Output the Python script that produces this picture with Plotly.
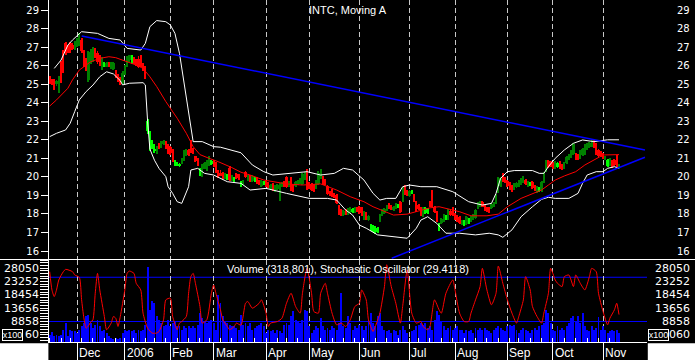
import pandas as pd
import plotly.graph_objects as go

# ---------------- data ----------------
HOLIDAYS = ["2005-11-24", "2005-12-26", "2006-01-02", "2006-01-16", "2006-02-20",
            "2006-04-14", "2006-05-29", "2006-07-04", "2006-09-04"]
DATES = [d for d in pd.bdate_range("2005-11-14", "2006-11-10")
         if d.strftime("%Y-%m-%d") not in HOLIDAYS]

OPEN = [25.37,25.25,25.20,25.00,25.10,26.20,26.80,27.20,27.00,27.25,
        27.10,26.90,27.10,27.10,27.40,26.80,26.30,25.20,26.20,26.30,
        26.85,26.70,26.50,25.80,25.95,25.95,26.15,25.90,25.80,25.70,
        25.50,25.35,25.10,25.60,26.00,26.30,26.20,26.35,26.30,26.35,
        26.30,26.10,25.95,22.50,21.50,21.60,21.40,21.30,21.75,21.60,
        21.80,21.85,21.75,21.60,21.45,20.65,20.65,20.60,20.75,20.90,
        21.20,21.45,21.60,21.50,21.10,20.95,20.10,20.15,20.45,20.35,
        20.65,20.70,20.80,20.75,20.30,20.20,20.20,19.95,19.90,20.50,
        19.85,19.80,20.15,20.10,19.50,19.60,20.25,19.85,20.05,19.80,
        19.75,19.95,19.80,19.50,19.60,19.80,19.70,19.35,19.60,19.25,
        19.35,19.35,19.50,19.75,20.00,19.50,19.95,19.55,19.50,19.60,
        19.65,19.60,19.90,20.35,19.65,19.60,19.55,19.40,19.60,19.95,
        20.00,19.85,19.50,19.20,19.30,19.10,19.00,18.45,18.20,17.95,
        18.20,18.00,18.10,18.10,18.10,18.35,18.40,18.30,17.75,18.05,
        17.65,17.15,17.10,16.95,17.00,17.60,17.95,18.05,18.20,18.55,
        18.45,18.20,18.30,18.35,18.65,18.70,19.45,19.25,18.95,19.10,
        19.00,18.65,18.50,18.30,17.90,18.05,18.05,18.65,18.70,18.40,
        18.10,17.20,17.50,17.60,17.75,17.70,18.15,18.30,18.00,17.90,
        17.85,17.45,17.40,17.45,17.50,17.60,17.75,17.80,18.30,18.45,
        18.65,18.45,18.35,18.35,18.30,18.40,18.60,19.20,19.50,20.10,
        19.95,19.80,19.65,19.50,19.35,19.45,19.50,19.60,19.70,19.85,
        19.50,19.55,19.75,19.50,19.20,19.25,19.25,19.70,20.30,20.85,
        20.80,20.75,20.50,20.55,20.80,20.65,20.45,20.75,20.95,21.05,
        21.25,21.25,21.20,21.00,21.20,21.25,21.50,21.60,21.65,21.85,
        21.80,21.45,21.35,21.25,20.95,20.60,20.65,20.85,20.90,20.95,20.45]
HIGH = [25.45,25.30,25.30,25.20,25.45,26.25,26.85,27.25,27.10,27.30,
        27.20,27.35,27.50,27.75,27.50,26.85,26.40,26.80,26.90,27.00,
        26.95,26.80,26.60,26.45,26.20,26.20,26.20,26.20,26.20,25.75,
        25.55,25.40,25.70,26.05,26.50,26.60,26.60,26.45,26.35,26.50,
        26.55,26.15,26.00,23.10,22.50,22.00,21.80,21.65,21.85,21.95,
        22.00,21.95,21.80,21.65,21.50,20.90,20.80,20.75,21.00,21.45,
        21.50,21.50,21.99,21.55,21.15,21.00,20.50,20.70,20.80,20.90,
        21.10,20.90,20.90,20.80,20.35,20.35,20.25,20.20,20.15,20.60,
        20.10,20.00,20.20,20.15,19.80,19.85,20.30,20.10,20.10,20.10,
        20.00,20.00,19.85,19.85,19.80,19.85,19.75,19.60,19.65,19.55,
        19.60,19.65,19.75,19.80,20.05,19.80,20.00,19.60,19.80,19.85,
        19.95,20.20,20.25,20.45,19.70,19.65,19.60,19.85,20.30,20.40,
        20.05,19.90,19.55,19.25,19.35,19.15,19.05,18.50,18.25,18.20,
        18.25,18.30,18.35,18.30,18.35,18.40,18.45,18.35,18.15,18.10,
        17.95,17.45,17.40,17.35,17.30,18.00,18.25,18.30,18.50,18.60,
        18.50,18.45,18.60,18.55,18.70,19.45,19.55,19.30,19.30,19.30,
        19.05,18.70,18.55,18.35,18.40,18.35,18.30,18.70,19.30,18.45,
        18.15,17.50,17.80,18.00,17.95,18.25,18.20,18.35,18.05,17.95,
        17.90,17.70,17.65,17.90,17.80,17.90,18.00,18.25,18.65,18.70,
        18.70,18.50,18.40,18.40,18.60,18.65,19.10,20.00,20.00,20.20,
        20.00,19.85,19.70,19.55,19.65,19.70,19.85,19.95,20.05,19.90,
        19.80,19.75,19.80,19.55,19.50,19.45,19.80,20.25,20.90,20.90,
        20.85,20.80,20.85,20.80,20.85,20.70,20.80,21.10,21.25,21.45,
        21.85,21.30,21.25,21.45,21.55,21.75,21.85,21.90,22.00,22.00,
        21.85,21.50,21.40,21.30,21.15,20.95,21.00,20.90,20.95,21.20,20.70]
LOW = [25.00,24.95,24.70,24.90,24.55,25.05,25.60,26.60,26.70,26.70,
       26.85,26.85,27.00,27.05,26.70,25.90,25.70,25.10,26.10,26.20,
       26.40,26.10,26.00,25.75,25.90,25.90,25.90,25.80,25.75,25.35,
       25.10,24.95,25.00,25.50,25.95,26.20,26.10,26.10,26.00,25.85,
       25.90,25.70,25.30,22.30,21.40,21.50,21.30,21.25,21.50,21.55,
       21.70,21.50,21.25,21.20,20.80,20.60,20.60,20.55,20.70,20.85,
       21.15,21.15,21.30,21.25,20.80,20.60,20.05,20.00,20.40,20.30,
       20.60,20.65,20.55,20.20,19.95,20.05,19.90,19.90,19.85,19.80,
       19.80,19.75,19.90,19.85,19.45,19.55,19.95,19.80,19.75,19.75,
       19.70,19.60,19.55,19.45,19.55,19.45,19.40,19.30,19.25,19.20,
       19.30,18.70,19.45,19.45,19.40,19.45,19.25,19.20,19.45,19.55,
       19.60,19.55,19.85,19.30,19.35,19.25,19.20,19.35,19.55,19.90,
       19.55,19.55,19.00,18.95,18.90,18.85,18.55,17.95,17.90,17.90,
       17.95,17.95,18.05,18.05,18.05,18.10,18.00,17.90,17.70,17.65,
       17.60,17.10,17.00,16.90,16.95,17.55,17.90,18.00,18.15,18.25,
       18.20,18.15,18.25,18.30,18.05,18.65,19.00,18.95,18.90,19.05,
       18.65,18.10,18.20,17.90,17.85,18.00,18.00,18.35,18.35,18.05,
       17.55,17.10,17.45,17.55,17.70,17.65,17.90,17.90,17.65,17.55,
       17.45,17.40,17.35,17.40,17.45,17.55,17.70,17.75,18.25,18.40,
       18.35,18.15,18.10,18.05,18.25,18.35,18.55,19.15,19.45,19.70,
       19.65,19.45,19.30,19.20,19.30,19.40,19.45,19.55,19.65,19.55,
       19.45,19.50,19.35,19.25,19.15,19.20,19.20,19.65,20.25,20.50,
       20.55,20.40,20.45,20.50,20.45,20.35,20.40,20.70,20.90,21.00,
       21.20,20.90,20.90,20.95,21.15,21.20,21.45,21.55,21.60,21.55,
       21.20,21.05,21.05,20.95,20.90,20.55,20.60,20.50,20.60,20.50,20.40]
CLOSE = [25.10,25.05,24.95,25.15,25.35,25.15,25.70,26.70,26.75,26.80,
         26.90,27.30,27.45,27.60,26.80,25.95,25.80,26.75,26.85,26.90,
         26.50,26.20,26.10,26.40,26.10,26.15,26.00,26.10,26.15,25.45,
         25.20,25.05,25.60,26.00,26.40,26.55,26.50,26.15,26.05,25.90,
         25.95,25.75,25.50,23.00,22.30,21.95,21.45,21.60,21.55,21.90,
         21.95,21.60,21.30,21.30,20.85,20.80,20.75,20.70,20.95,21.40,
         21.45,21.20,21.35,21.30,20.85,20.65,20.45,20.55,20.75,20.85,
         20.90,20.85,20.60,20.25,20.05,20.10,19.95,20.15,20.10,19.85,
         20.05,19.95,19.95,19.90,19.75,19.80,20.00,20.05,19.80,20.05,
         19.95,19.65,19.60,19.80,19.75,19.50,19.45,19.55,19.30,19.50,
         19.55,19.60,19.70,19.50,19.45,19.75,19.30,19.25,19.75,19.80,
         19.90,20.15,20.20,19.35,19.40,19.30,19.25,19.80,20.20,20.30,
         19.60,19.60,19.05,19.00,18.95,18.90,18.60,18.00,17.95,18.15,
         18.00,18.25,18.30,18.25,18.30,18.15,18.05,17.95,18.10,17.70,
         17.90,17.40,17.35,17.30,17.25,17.95,18.20,18.25,18.45,18.30,
         18.25,18.40,18.55,18.50,18.10,19.35,19.05,19.00,19.25,19.20,
         18.70,18.15,18.25,17.95,18.35,18.30,18.25,18.40,18.40,18.10,
         17.60,17.45,17.75,17.95,17.90,18.20,17.95,17.95,17.70,17.60,
         17.50,17.65,17.60,17.85,17.75,17.85,17.95,18.20,18.60,18.65,
         18.40,18.20,18.15,18.10,18.55,18.60,19.05,19.90,19.95,19.75,
         19.70,19.50,19.35,19.25,19.60,19.65,19.80,19.90,19.95,19.60,
         19.75,19.70,19.40,19.30,19.45,19.40,19.75,20.20,20.85,20.55,
         20.60,20.45,20.80,20.75,20.50,20.40,20.75,21.05,21.20,21.40,
         21.75,20.95,20.95,21.40,21.50,21.70,21.80,21.85,21.90,21.60,
         21.25,21.10,21.10,21.00,21.10,20.90,20.95,20.55,20.65,20.55,20.65]
VOLUME = [4060,4900,3700,4060,3460,4060,5860,8260,3460,5860,
          5260,5260,4660,5860,7060,8260,10660,11260,8260,6460,
          7660,9460,7060,5260,5860,4660,3460,2860,2500,2860,
          2500,2860,4660,5860,5260,5860,5260,5860,4660,5860,
          5260,5860,7660,28500,13060,16060,15460,10660,9460,8260,
          7060,7660,9460,7060,8260,8860,7060,7060,5860,7060,
          6460,7060,6460,7060,6460,7660,11860,10060,8860,8260,
          8860,9460,8260,5860,18460,15460,10660,8860,8260,7660,
          7060,7060,6460,5860,11260,7660,8260,7060,8260,5860,
          6460,7060,7660,8260,7060,4660,5860,5260,5860,4660,
          5860,5260,4660,7660,8260,7660,10660,12460,9460,8860,
          8260,9460,13060,12460,7060,4660,5860,7060,6460,10060,
          7060,5860,6460,5860,7060,6460,5860,8260,19060,7060,
          6460,10660,8260,5860,7060,6460,7660,7060,5860,7060,
          9460,11860,8260,7060,10660,11860,7060,5860,5260,5860,
          4660,5860,5260,4060,5860,7060,5860,4660,2860,5260,
          5860,7060,7660,8260,7660,8260,6460,7060,5860,9460,
          12460,11260,8860,7060,5860,6460,7060,5860,6460,7060,
          5860,5860,4660,5860,5260,5860,4660,6460,5860,6460,
          5860,6460,5860,5260,4660,5860,6460,7060,6460,5860,
          5260,7060,7660,7060,7660,5860,4660,5860,6460,5860,
          5260,4660,5860,6460,5860,7060,7660,8260,13060,11860,
          8260,5860,5260,7060,5860,6460,5860,7060,8260,10060,
          10660,8860,10660,8260,11860,7060,5860,5260,7060,5860,
          6460,10300,5860,7060,5860,4660,5260,5860,5260,5860,4660]

# moving average and bands, read at sample days (trading-day index)
MA_IDX = [0,3,8,10,13,18,22,26,29,34,38,41,44,47,51,56,60,63,66,70,74,80,84,88,94,
          104,111,119,126,132,138,142,147,151,157,163,167,171,177,180,185,192,197,201,207,
          212,216,219,222,226,231,235,240,243,250]
MA_VAL = [23.82,24.15,24.78,25.23,25.76,26.21,26.39,26.48,26.43,26.21,26.03,25.85,25.40,24.87,24.06,
          23.16,22.35,21.63,21.20,21.00,20.82,20.50,20.25,20.10,19.83,19.62,19.56,19.62,19.29,18.93,
          18.66,18.39,18.12,17.94,17.99,18.17,18.33,18.39,18.21,18.12,17.90,17.90,17.99,18.39,18.84,
          19.11,19.29,19.56,19.83,20.05,20.28,20.64,21.00,21.18,21.20]
UP_IDX = [2,5,8,10,14,21,26,31,34,40,42,44,47,51,53,55,57,59,61,62,63,67,72,75,80,84,89,94,98,107,
          113,119,125,129,133,138,142,145,148,152,155,158,163,170,177,184,190,194,196,198,201,204,
          212,215,217,219,222,226,230,234,239,245,250]
UP_VAL = [25.85,26.30,27.11,27.38,27.83,27.74,27.47,27.38,26.93,26.84,27.20,28.10,28.43,28.37,28.19,
          27.74,26.66,25.05,23.25,22.53,21.90,21.90,21.63,21.60,21.45,21.30,20.64,20.28,20.10,20.19,
          20.28,20.10,20.19,20.46,20.37,19.83,19.11,18.75,18.84,18.84,19.47,19.56,19.47,19.47,19.20,
          18.66,18.48,18.57,19.11,19.92,20.28,20.34,20.34,20.19,20.19,20.55,21.00,21.45,21.81,21.99,
          21.90,22.00,22.00]
LO_IDX = [0,3,7,9,11,13,16,19,22,25,28,31,32,35,41,42,43,44,46,48,51,52,54,56,58,59,61,62,65,68,
          72,78,84,88,95,104,110,114,122,126,130,133,136,139,144,150,157,161,163,166,170,174,180,
          187,193,197,199,203,207,212,216,219,222,228,232,234,236,240,243,245,248,250]
LO_VAL = [22.17,22.35,22.53,22.89,23.52,24.15,24.60,24.95,25.40,25.67,25.55,25.19,24.96,25.05,25.08,
          24.96,23.00,21.50,20.90,20.46,20.01,19.47,19.11,18.66,18.57,18.84,19.47,20.37,20.46,20.19,
          20.10,19.74,19.65,19.29,19.38,19.11,18.93,18.84,18.84,18.75,18.21,17.94,17.40,17.23,16.87,
          16.78,16.69,17.23,17.67,17.85,17.49,16.96,16.96,16.87,16.96,16.87,16.74,17.14,17.85,18.39,
          18.79,18.90,18.84,18.84,19.11,19.65,20.10,20.28,20.28,20.46,20.55,20.46]

# trend lines (trading-day index, price)
TREND_UP_IDX = [14.06, 261.4]
TREND_UP_VAL = [27.60, 21.45]
TREND_LO_IDX = [150.2, 261.4]
TREND_LO_VAL = [15.61, 21.06]

# stochastic oscillator, read at sample days
ST_IDX = [0,1,2,3,4,6,7,10,11,13,14,15,16,17,18,19,20,21,22,24,25,27,28,29,30,31,33,34,35,37,
          38,40,41,43,45,47,48,50,51,53,54,56,57,58,60,61,62,63,64,66,67,69,71,72,73,75,76,78,79,81,
          82,84,86,87,89,92,93,95,96,97,100,102,104,106,108,110,111,113,115,116,118,119,121,122,124,
          126,128,130,132,134,136,137,139,140,142,143,145,147,148,150,152,154,155,157,159,161,163,164,
          166,167,169,171,172,174,177,178,180,182,184,185,187,189,190,192,194,196,197,199,201,203,
          205,206,208,209,211,212,214,216,217,219,220,222,223,225,226,228,230,231,233,235,237,238,
          240,241,243,245,246,248,249,250]
ST_VAL = [87.6,62.8,53.8,62.8,76.3,87.6,90.7,87.6,83.1,79.9,50.0,25.0,11.0,14.0,19.0,22.3,58.3,85.3,
          62.8,26.8,8.8,17.8,26.8,24.5,13.3,26.8,62.8,85.3,88.4,85.3,71.8,62.8,31.3,11.0,4.3,4.3,6.5,
          22.3,49.3,51.6,26.8,8.8,17.8,20.0,26.8,58.3,80.8,85.3,71.8,40.3,17.8,22.3,58.3,69.5,58.3,
          35.8,22.3,13.3,8.8,13.3,17.8,15.0,44.8,47.1,38.1,44.8,49.3,31.3,13.3,17.8,20.0,24.5,44.8,
          58.3,40.3,31.3,58.3,92.1,58.3,33.6,31.3,58.3,71.8,58.3,31.3,15.5,17.8,13.3,22.3,40.3,44.8,
          62.8,49.3,22.3,6.5,13.3,31.3,67.3,97.0,67.3,44.8,17.8,40.3,89.8,31.3,17.8,20.0,13.3,8.8,
          13.3,49.3,35.8,31.3,58.3,76.3,62.8,31.3,20.0,20.0,31.3,49.3,67.3,92.1,62.8,42.6,58.3,95.2,
          71.8,49.3,31.3,17.8,26.8,49.3,80.8,62.8,40.3,26.8,17.8,31.3,58.3,92.1,76.3,71.8,67.3,80.8,
          83.1,67.3,83.1,71.8,62.8,80.8,92.1,87.6,58.3,33.6,15.5,24.5,35.8,44.8,29.4]
STOCH_LEVELS = [20, 80]

PRICE_TICKS = list(range(16, 30))
VOL_TICKS = [4060, 8858, 13656, 18454, 23252, 28050]
# visible text of the volume labels (the lowest one is partly hidden by the "x100" box)
VOL_TEXT_LEFT = ["60", "8858", "13656", "18454", "23252", "28050"]
VOL_TEXT_RIGHT = ["060", "8858", "13656", "18454", "23252", "28050"]
TITLE = "INTC, Moving A"
SUBTITLE = "Volume (318,801), Stochastic Oscillator (29.4118)"

# ---------------- derived categories ----------------
N = len(DATES)
assert N == len(OPEN) == len(HIGH) == len(LOW) == len(CLOSE) == len(VOLUME) == 251
assert len(ST_IDX) == len(ST_VAL) and len(UP_IDX) == len(UP_VAL) and len(LO_IDX) == len(LO_VAL)
assert len(MA_IDX) == len(MA_VAL)
IDX = list(range(N))
month_idx, month_lab, week_idx = [], [], []
for i, d in enumerate(DATES):
    if i == 0 or d.isocalendar()[1] != DATES[i - 1].isocalendar()[1]:
        week_idx.append(i)
    if i > 0 and d.month != DATES[i - 1].month:
        month_idx.append(i)
        month_lab.append(str(d.year) if d.month == 1 else d.strftime("%b"))

# ---------------- figure ----------------
W, H = 695, 360
ML, MR, MT, MB = 49, 48, 0, 18
PW, PH = W - ML - MR, H - MT - MB
MAIN_BOTTOM = (PH - 259) / PH
LOW_TOP = (PH - 260) / PH
XR = [-0.3, 262.3]
PR = [15.57, 29.54]
VR = [1433, 31037]
SR = [-7.8, 103.4]
GRID = "#c8c8c8"
FONT = "Liberation Sans, Arial, sans-serif"
NUMFONT = "DejaVu Sans, sans-serif"

fig = go.Figure()

# bands and moving average
fig.add_trace(go.Scatter(x=UP_IDX, y=UP_VAL, mode="lines", line=dict(color="white", width=1)))
fig.add_trace(go.Scatter(x=LO_IDX, y=LO_VAL, mode="lines", line=dict(color="white", width=1)))
fig.add_trace(go.Scatter(x=MA_IDX, y=MA_VAL, mode="lines", line=dict(color="#ff0000", width=1)))

# candles
cls = []
for i in range(N):
    if CLOSE[i] < OPEN[i]:
        cls.append("red")
    elif i > 0 and CLOSE[i] < CLOSE[i - 1]:
        cls.append("bright")
    else:
        cls.append("dark")
CCOL = {"red": "#ff0000", "dark": "#008000", "bright": "#00ff00"}
for k, col in CCOL.items():
    sel = [i for i in range(N) if cls[i] == k]
    fig.add_trace(go.Bar(x=sel, base=[LOW[i] for i in sel], y=[HIGH[i] - LOW[i] for i in sel],
                         width=0.42, marker=dict(color=col, line=dict(width=0))))
    fig.add_trace(go.Bar(x=sel, base=[min(OPEN[i], CLOSE[i]) for i in sel],
                         y=[abs(CLOSE[i] - OPEN[i]) for i in sel],
                         width=1.0, marker=dict(color=col, line=dict(width=0))))

# trend lines
fig.add_trace(go.Scatter(x=TREND_UP_IDX, y=TREND_UP_VAL, mode="lines", line=dict(color="#0000ff", width=1.5)))
fig.add_trace(go.Scatter(x=TREND_LO_IDX, y=TREND_LO_VAL, mode="lines", line=dict(color="#0000ff", width=1.5)))

# lower panel
fig.add_trace(go.Bar(x=IDX, y=VOLUME, width=0.42, marker=dict(color="#0000ff", line=dict(width=0)),
                     xaxis="x2", yaxis="y2"))
fig.add_trace(go.Scatter(x=ST_IDX, y=ST_VAL, mode="lines",
                         line=dict(color="#ff0000", width=1, shape="spline", smoothing=0.6),
                         xaxis="x2", yaxis="y5"))

shapes = []
for lv in STOCH_LEVELS:
    shapes.append(dict(type="line", xref="paper", x0=0, x1=1, yref="y5", y0=lv, y1=lv,
                       line=dict(color="#0000ff", width=1), layer="below"))
# separator line between panels
sep = (PH - 259.5) / PH
shapes.append(dict(type="line", xref="paper", x0=-ML / PW - 0.01, x1=1 + MR / PW + 0.01,
                   yref="paper", y0=sep, y1=sep, line=dict(color="white", width=1), layer="above"))
# white bottom corners
shapes.append(dict(type="rect", xref="paper", x0=-ML / PW - 0.01, x1=-0.6 / PW, yref="paper",
                   y0=-MB / PH - 0.01, y1=-1.2 / PH, fillcolor="white", line=dict(width=0), layer="above"))
shapes.append(dict(type="rect", xref="paper", x0=1 + 0.8 / PW, x1=1 + MR / PW + 0.01, yref="paper",
                   y0=-MB / PH - 0.01, y1=-1.2 / PH, fillcolor="white", line=dict(width=0), layer="above"))

ann = []
ann.append(dict(text=TITLE, xref="paper", yref="paper", x=0.5, y=1, yanchor="top", yshift=-2,
                showarrow=False, font=dict(family=FONT, size=11, color="white")))
ann.append(dict(text=SUBTITLE, xref="paper", yref="paper", x=0.5, y=LOW_TOP, yanchor="top", yshift=-1,
                showarrow=False, font=dict(family=FONT, size=11, color="white")))
for mi, ml in zip(month_idx, month_lab):
    ann.append(dict(text=ml, xref="x2", yref="paper", x=mi, y=0, xanchor="left", yanchor="top",
                    yshift=-2, showarrow=False, font=dict(family=FONT, size=12, color="white")))
RX = 1 + (692 - (W - MR)) / PW
LX = (40.5 - ML) / PW
for p in PRICE_TICKS:
    ann.append(dict(text=str(p), xref="paper", yref="y", x=RX, y=p, xanchor="right", yanchor="middle",
                    showarrow=False, font=dict(family=NUMFONT, size=10, color="white")))
for v, tl, tr in zip(VOL_TICKS, VOL_TEXT_LEFT, VOL_TEXT_RIGHT):
    ann.append(dict(text=tl, xref="paper", yref="y2", x=LX, y=v, xanchor="right", yanchor="middle",
                    showarrow=False, font=dict(family=NUMFONT, size=11, color="white")))
    ann.append(dict(text=tr, xref="paper", yref="y2", x=RX, y=v, xanchor="right", yanchor="middle",
                    showarrow=False, font=dict(family=NUMFONT, size=11, color="white")))
for bx in [(1.7 - ML) / PW, 1 + 1.2 / PW]:
    ann.append(dict(text="x100", xref="paper", yref="y2", x=bx, y=VOL_TICKS[0], xanchor="left",
                    yanchor="middle", showarrow=False, width=19, height=10, borderpad=0,
                    bgcolor="black", bordercolor="white", borderwidth=1,
                    font=dict(family=FONT, size=9, color="white")))

fig.update_layout(
    width=W, height=H, margin=dict(l=ML, r=MR, t=MT, b=MB),
    paper_bgcolor="black", plot_bgcolor="rgba(0,0,0,0)",
    showlegend=False, barmode="overlay", bargap=0, hovermode=False,
    shapes=shapes, annotations=ann,
    xaxis=dict(domain=[0, 1], anchor="y", range=XR, tickmode="array", tickvals=month_idx,
               showticklabels=False, ticks="", showgrid=True, gridcolor=GRID, gridwidth=1,
               griddash="5px,3px", zeroline=False, showline=False),
    xaxis2=dict(domain=[0, 1], anchor="y2", range=XR, matches="x", tickmode="array", tickvals=month_idx,
                showticklabels=False, ticks="outside", ticklen=18, tickwidth=1, tickcolor="white",
                showgrid=True, gridcolor=GRID, gridwidth=1, griddash="5px,3px", zeroline=False,
                showline=True, linecolor="white", linewidth=1,
                minor=dict(tickmode="array", tickvals=week_idx, ticks="inside", ticklen=4,
                           tickcolor="white", tickwidth=1, showgrid=False)),
    yaxis=dict(domain=[MAIN_BOTTOM, 1], anchor="x", range=PR, tickmode="array", tickvals=PRICE_TICKS,
               ticks="outside", ticklen=7, tickcolor="white", tickwidth=1, showline=True,
               linecolor="white", linewidth=1, showgrid=False, zeroline=False,
               tickfont=dict(family=NUMFONT, size=10, color="white")),
    yaxis3=dict(overlaying="y", anchor="x", side="right", range=PR, tickmode="array",
                tickvals=PRICE_TICKS, ticks="outside", ticklen=8, tickcolor="white", tickwidth=1,
                showticklabels=False, showline=True, linecolor="white", linewidth=1,
                showgrid=False, zeroline=False),
    yaxis2=dict(domain=[0, LOW_TOP], anchor="x2", range=VR, tickmode="linear", tick0=VOL_TICKS[0],
                dtick=VOL_TICKS[1] - VOL_TICKS[0], ticks="outside", ticklen=8,
                tickcolor="white", tickwidth=1, showline=True, linecolor="white", linewidth=1,
                showgrid=False, zeroline=False, showticklabels=False,
                minor=dict(tickmode="linear", tick0=VOL_TICKS[0], dtick=(VOL_TICKS[1] - VOL_TICKS[0]) / 5,
                           ticks="outside", ticklen=8, tickcolor="white", tickwidth=1, showgrid=False)),
    yaxis4=dict(overlaying="y2", anchor="x2", side="right", range=VR, tickmode="linear",
                tick0=VOL_TICKS[0], dtick=VOL_TICKS[1] - VOL_TICKS[0], ticks="outside", ticklen=7,
                tickcolor="white", tickwidth=1, showticklabels=False, showline=True,
                linecolor="white", linewidth=1, showgrid=False, zeroline=False,
                minor=dict(tickmode="linear", tick0=VOL_TICKS[0], dtick=(VOL_TICKS[1] - VOL_TICKS[0]) / 5,
                           ticks="outside", ticklen=7, tickcolor="white", tickwidth=1, showgrid=False)),
    yaxis5=dict(overlaying="y2", anchor="x2", range=SR, visible=False, showgrid=False, zeroline=False),
)

fig.write_html("out.html")
